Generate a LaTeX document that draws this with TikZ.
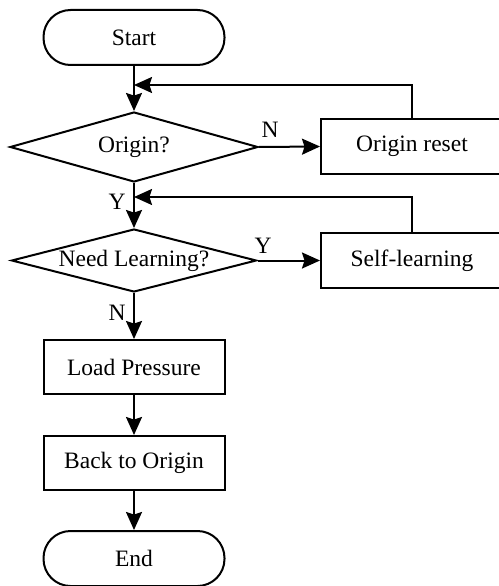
\documentclass[tikz,border=0pt]{standalone}
\usepackage{fontspec}
\setmainfont{Liberation Serif}
\usetikzlibrary{shapes.geometric,arrows.meta}
\begin{document}
\begin{tikzpicture}[x=1pt,y=-1pt,
  every node/.style={font=\fontsize{23.5}{28}\selectfont},
  lw/.style={line width=2pt},
  term/.style={lw,draw,rounded corners=27pt,minimum width=181pt,minimum height=55pt,inner sep=0pt},
  proc/.style={lw,draw,minimum width=181pt,minimum height=54pt,inner sep=0pt},
  side/.style={lw,draw,minimum width=182pt,inner sep=0pt},
  decide/.style={lw,draw,diamond,inner sep=0pt},
  flow/.style={lw,-{Stealth[length=18pt,width=16pt,inset=2.5pt]}},
  lbl/.style={inner sep=0pt}]
\useasboundingbox (0,0) rectangle (498,586);

% main column
\node[term] (start) at (134,37.5) {Start};
\node[decide,shape aspect=3.54,minimum width=248pt,minimum height=70pt] (orig) at (134,147) {Origin?};
\node[decide,shape aspect=3.89,minimum width=245pt,minimum height=63pt] (learn) at (134,260.5) {Need Learning?};
\node[proc] (load) at (134,367) {Load Pressure};
\node[proc] (back) at (134,463) {Back to Origin};
\node[term] (end) at (134,558.5) {End};

% side branches
\node[side,minimum height=55pt] (reset) at (412,146.5) {Origin reset};
\node[side,minimum height=55pt] (self) at (412,260.5) {Self-learning};

% return points on the main line
\coordinate (m1) at (134,85);
\coordinate (m2) at (134,197);

% branch labels
\node[lbl] (n1) at (270,130) {N};
\node[lbl] (y1) at (117,202) {Y};
\node[lbl] (y2) at (263,246) {Y};
\node[lbl] (n2) at (117,313) {N};

% connectors
\draw[flow] (start) -- (orig);
\draw[flow] (orig) -- (learn);
\draw[flow] (learn) -- (load);
\draw[flow] (load) -- (back);
\draw[flow] (back) -- (end);
\draw[flow] (orig.east) -- (reset.west);
\draw[flow] (learn.east) -- (self.west);
\draw[flow] (reset.north) |- (m1);
\draw[flow] (self.north) |- (m2);
\end{tikzpicture}
\end{document}
